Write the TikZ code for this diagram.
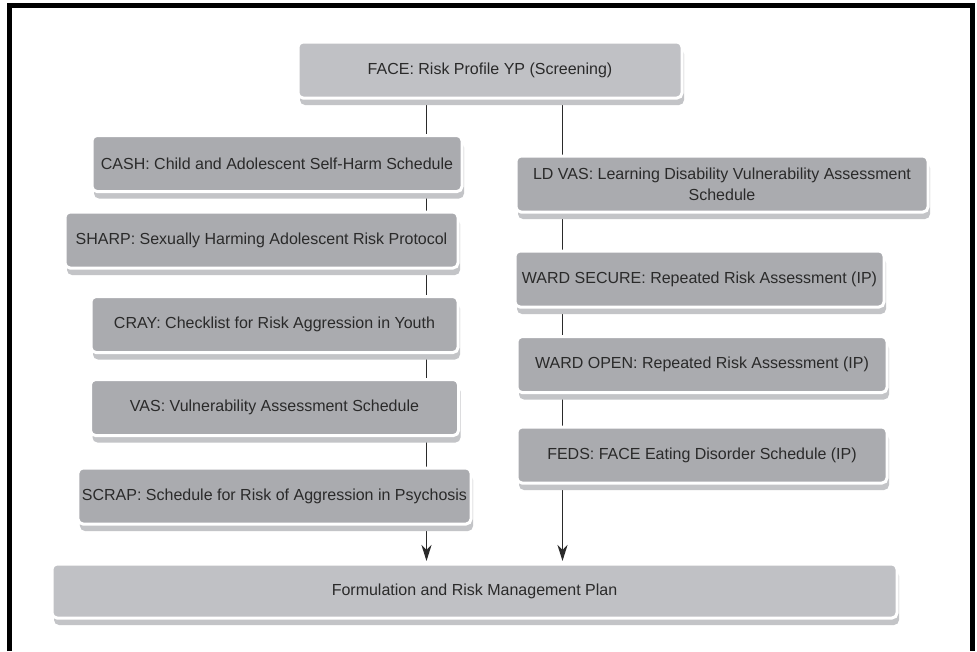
\documentclass[tikz,border=0pt]{standalone}
\usepackage{fontspec}
\setmainfont{Liberation Sans}
\usetikzlibrary{positioning,shadows,arrows.meta,backgrounds}

\definecolor{boxdark}{HTML}{AAABAF}
\definecolor{boxlight}{HTML}{C0C1C5}
\definecolor{boxshade}{HTML}{C3C4C7}
\definecolor{inkgray}{HTML}{2A2A2A}

\tikzset{
  riskbox/.style={rectangle, rounded corners=5pt, fill=boxdark, draw=white,
    line width=3pt, minimum height=56pt, inner sep=4pt, outer sep=0pt,
    text=inkgray, align=center, font=\fontsize{16}{21}\selectfont,
    drop shadow={shadow xshift=2pt, shadow yshift=-7pt, fill=boxshade, opacity=1}},
  mainbox/.style={riskbox, fill=boxlight},
  link/.style={draw=inkgray, line width=1.6pt},
  flow/.style={link, -{Stealth[length=16pt, width=10pt, inset=5pt]}, shorten >=3pt}
}

\begin{document}
\begin{tikzpicture}[x=1pt,y=-1pt]
  \useasboundingbox (0,0) rectangle (977,651);

  % screening box at the top
  \node[mainbox, minimum width=384pt] (face) at (490,70) {FACE: Risk Profile YP (Screening)};

  % left column
  \node[riskbox, minimum width=370pt] (cash) at (277,163.5) {CASH: Child and Adolescent Self-Harm Schedule};
  \node[riskbox, minimum width=393pt] (sharp) [below=20.5pt of cash, xshift=-15.5pt] {SHARP: Sexually Harming Adolescent Risk Protocol};
  \node[riskbox, minimum width=367pt] (cray) [below=28.5pt of sharp, xshift=13pt] {CRAY: Checklist for Risk Aggression in Youth};
  \node[riskbox, minimum width=368pt] (vas) [below=27pt of cray] {VAS: Vulnerability Assessment Schedule};
  \node[riskbox, minimum width=392pt] (scrap) [below=32.5pt of vas] {SCRAP: Schedule for Risk of Aggression in Psychosis};

  % right column
  \node[riskbox, minimum width=412pt] (ldvas) at (722,184) {LD VAS: Learning Disability Vulnerability Assessment\\Schedule};
  \node[riskbox, minimum width=369pt] (secure) [below=39pt of ldvas, xshift=-22.5pt] {WARD SECURE: Repeated Risk Assessment (IP)};
  \node[riskbox, minimum width=370pt] (open) [below=29.5pt of secure, xshift=2.5pt] {WARD OPEN: Repeated Risk Assessment (IP)};
  \node[riskbox, minimum width=370pt] (feds) [below=34.5pt of open] {FEDS: FACE Eating Disorder Schedule (IP)};

  % outcome
  \node[mainbox, minimum width=845pt, minimum height=54pt] (plan) at (474.5,591) {Formulation and Risk Management Plan};

  \coordinate (lcol) at (426.5,0);
  \coordinate (rcol) at (562.5,0);

  % frame, open at the bottom
  \draw[line width=5pt, line join=miter] (9,651) -- (9,5) -- (972,5) -- (972,651);

  \begin{scope}[on background layer]
    \fill[white] (0,0) rectangle (977,651);
    \foreach \a/\b in {face/cash, cash/sharp, sharp/cray, cray/vas, vas/scrap}
      \draw[link] (\a.south -| lcol) -- (\b.north -| lcol);
    \foreach \a/\b in {face/ldvas, ldvas/secure, secure/open, open/feds}
      \draw[link] (\a.south -| rcol) -- (\b.north -| rcol);
    \draw[flow] (scrap.south -| lcol) -- (plan.north -| lcol);
    \draw[flow] (feds.south -| rcol) -- (plan.north -| rcol);
  \end{scope}
\end{tikzpicture}
\end{document}
